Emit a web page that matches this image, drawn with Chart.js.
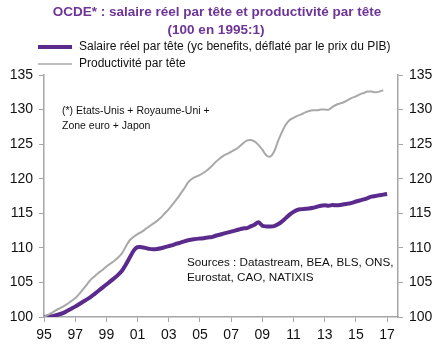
<!DOCTYPE html>
<html lang="fr">
<head>
<meta charset="utf-8">
<script src="https://cdn.jsdelivr.net/npm/chart.js@4"></script>
<style>
    html, body { margin: 0; padding: 0; background: #fff; }
    #graphique { display: block; }
</style>
</head>
<body>
<canvas id="graphique" width="445" height="352"></canvas>
<script>
// Données trimestrielles, 100 en 1995:1
const debut = 1995;
const salaire = [
    100.0, 100.05, 100.1, 100.25,
    100.4, 100.6, 100.9, 101.2,
    101.5, 101.85, 102.2, 102.55,
    102.9, 103.35, 103.8, 104.25,
    104.7, 105.15, 105.6, 106.1,
    106.7, 107.6, 108.6, 109.6,
    110.1, 110.1, 110.0, 109.85,
    109.8, 109.85, 109.95, 110.1,
    110.25, 110.4, 110.6, 110.75,
    110.95, 111.1, 111.2, 111.3,
    111.35, 111.4, 111.5, 111.55,
    111.75, 111.9, 112.05, 112.2,
    112.35, 112.5, 112.65, 112.8,
    112.85, 113.1, 113.35, 113.7,
    113.2, 113.1, 113.1, 113.15,
    113.4, 113.8, 114.3, 114.8,
    115.2, 115.5, 115.6, 115.65,
    115.7, 115.8, 115.95, 116.1,
    116.15, 116.1, 116.2, 116.15,
    116.2, 116.3, 116.4, 116.5,
    116.7, 116.85, 117.0, 117.2,
    117.4, 117.5, 117.6, 117.7,
    117.8
];
const productivite = [
    100.0, 100.3, 100.6, 100.95,
    101.25, 101.55, 101.9, 102.3,
    102.7, 103.3, 104.0, 104.7,
    105.4, 105.9, 106.4, 106.8,
    107.3, 107.7, 108.1, 108.6,
    109.2, 110.2, 111.1, 111.6,
    112.0, 112.3, 112.7, 113.1,
    113.5, 113.9, 114.4, 115.0,
    115.6, 116.3, 117.0, 117.8,
    118.6, 119.5, 120.0, 120.3,
    120.55, 120.9, 121.3, 121.8,
    122.4, 122.9, 123.3, 123.6,
    123.9, 124.2, 124.6, 125.1,
    125.5, 125.6, 125.4, 124.9,
    124.2, 123.4, 123.2, 123.9,
    125.4, 126.7, 127.8, 128.5,
    128.8, 129.1, 129.3, 129.6,
    129.8, 129.9, 129.9, 130.0,
    130.0, 130.0, 130.4, 130.7,
    130.9, 131.1, 131.4, 131.7,
    131.9, 132.2, 132.4, 132.6,
    132.6, 132.5, 132.6, 132.8
];
const anneesTicks = [1995, 1997, 1999, 2001, 2003, 2005, 2007, 2009, 2011, 2013, 2015, 2017];

const titre = ['OCDE* : salaire réel par tête et productivité par tête', '(100 en 1995:1)'];
const legendes = ['Salaire réel par tête (yc benefits, déflaté par le prix du PIB)', 'Productivité par tête'];
const note = ['(*) Etats-Unis + Royaume-Uni +', 'Zone euro + Japon'];
const sources = ['Sources : Datastream, BEA, BLS, ONS,', 'Eurostat, CAO, NATIXIS'];

const violet = '#5a2a8c';
const gris = '#a8a8a8';
const axeCouleur = '#a6a6a6';
const police = '"Liberation Sans", Arial, sans-serif';

function points(valeurs) {
    return valeurs.map((v, i) => ({ x: debut + i / 4, y: v }));
}

// Titre, légende et notes dessinés à la main
const textes = {
    id: 'textes',
    afterDraw(chart) {
        const ctx = chart.ctx;
        ctx.save();
        ctx.textBaseline = 'middle';

        ctx.fillStyle = '#6e3496';
        ctx.font = 'bold 13.5px ' + police;
        ctx.textAlign = 'center';
        ctx.fillText(titre[0], 217, 12);
        ctx.fillText(titre[1], 216, 30);

        ctx.textAlign = 'left';
        ctx.font = '12px ' + police;
        ctx.fillStyle = '#111';
        ctx.fillText(legendes[0], 79, 47);
        ctx.fillText(legendes[1], 79, 64);

        ctx.lineCap = 'butt';
        ctx.strokeStyle = violet;
        ctx.lineWidth = 4;
        ctx.beginPath(); ctx.moveTo(38, 47); ctx.lineTo(72, 47); ctx.stroke();
        ctx.strokeStyle = gris;
        ctx.lineWidth = 1.5;
        ctx.beginPath(); ctx.moveTo(38, 64); ctx.lineTo(72, 64); ctx.stroke();

        ctx.font = '10.5px ' + police;
        ctx.fillText(note[0], 62, 111);
        ctx.fillText(note[1], 62, 126);
        ctx.font = '11.7px ' + police;
        ctx.fillText(sources[0], 187, 263);
        ctx.fillText(sources[1], 187, 278);
        ctx.restore();
    }
};

function axeY(position, largeur) {
    return {
        type: 'linear',
        position: position,
        min: 100,
        max: 135,
        afterFit(scale) { scale.width = largeur; },
        ticks: { stepSize: 5, padding: 6, color: '#111', font: { family: police, size: 14 } },
        grid: { drawOnChartArea: false, drawTicks: true, tickLength: 5, color: axeCouleur },
        border: { color: axeCouleur, width: 1.5 }
    };
}

new Chart(document.getElementById('graphique'), {
    type: 'line',
    data: {
        datasets: [
            {
                label: legendes[1],
                data: points(productivite),
                borderColor: gris,
                borderWidth: 2,
                pointRadius: 0,
                tension: 0.3,
                yAxisID: 'y'
            },
            {
                label: legendes[0],
                data: points(salaire),
                borderColor: violet,
                borderWidth: 4,
                pointRadius: 0,
                tension: 0.3,
                yAxisID: 'y'
            }
        ]
    },
    options: {
        responsive: false,
        animation: false,
        layout: { padding: { top: 75, left: 0, right: 0, bottom: 0 } },
        plugins: {
            legend: { display: false },
            title: { display: false },
            tooltip: { enabled: false }
        },
        scales: {
            x: {
                type: 'linear',
                min: 1995,
                max: 2017.7,
                afterFit(scale) { scale.height = 35; },
                afterBuildTicks(scale) {
                    scale.ticks = anneesTicks.map(v => ({ value: v }));
                },
                ticks: {
                    padding: 5,
                    color: '#111',
                    maxRotation: 0,
                    autoSkip: false,
                    font: { family: police, size: 14 },
                    callback: v => String(v % 100).padStart(2, '0')
                },
                grid: { drawOnChartArea: false, drawTicks: true, tickLength: 5, color: axeCouleur },
                border: { color: axeCouleur, width: 1.5 }
            },
            y: axeY('left', 44),
            y2: axeY('right', 47)
        }
    },
    plugins: [textes]
});
</script>
</body>
</html>
